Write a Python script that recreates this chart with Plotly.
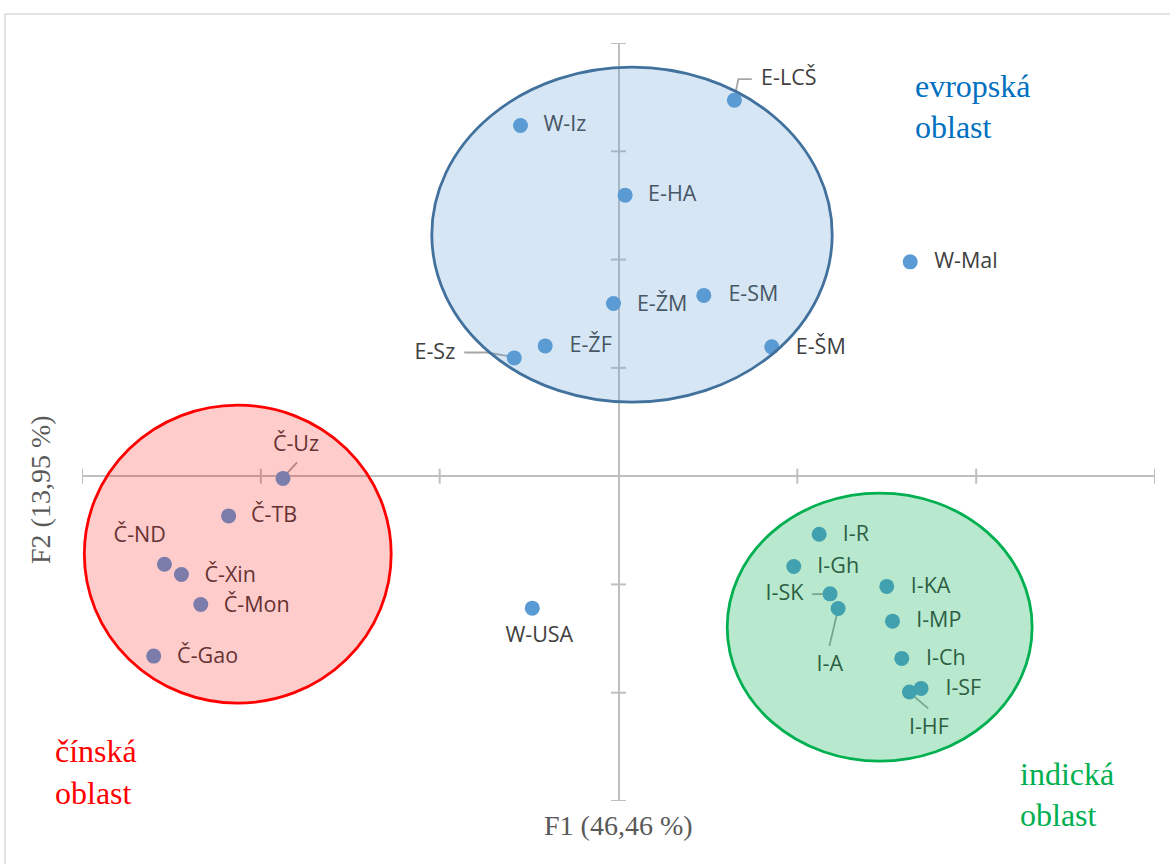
import plotly.graph_objects as go

# ---------------- data (F1, F2 scores in tick units) ----------------
EU_NAMES = ["E-LCŠ", "W-Iz", "E-HA", "W-Mal", "E-ŽM", "E-SM", "E-ŽF", "E-Sz", "E-ŠM", "W-USA"]
EU_F1 = [0.648, -0.548, 0.037, 1.631, -0.028, 0.477, -0.410, -0.583, 0.857, -0.482]
EU_F2 = [3.472, 3.238, 2.595, 1.979, 1.595, 1.669, 1.203, 1.092, 1.194, -1.219]

CN_NAMES = ["Č-Uz", "Č-TB", "Č-ND", "Č-Xin", "Č-Mon", "Č-Gao"]
CN_F1 = [-1.876, -2.180, -2.539, -2.444, -2.336, -2.599]
CN_F2 = [-0.021, -0.367, -0.813, -0.908, -1.185, -1.662]

IN_NAMES = ["I-R", "I-Gh", "I-SK", "I-A", "I-KA", "I-MP", "I-Ch", "I-SF", "I-HF"]
IN_F1 = [1.122, 0.980, 1.183, 1.228, 1.500, 1.532, 1.584, 1.692, 1.627]
IN_F2 = [-0.536, -0.834, -1.087, -1.222, -1.018, -1.339, -1.683, -1.960, -1.994]

# region ellipses: (x0, x1, y0, y1) in data units
EU_REGION = (-1.044, 1.195, 0.683, 3.777)
CN_REGION = (-2.987, -1.271, -2.096, 0.656)
IN_REGION = (0.608, 2.313, -2.632, -0.157)

X_TICKS = [-3, -2, -1, 0, 1, 2, 3]
Y_TICKS = [-3, -2, -1, 0, 1, 2, 3, 4]
X_TITLE = "F1 (46,46 %)"
Y_TITLE = "F2 (13,95 %)"
REGION_TITLES = [["evropská", "oblast"], ["čínská", "oblast"], ["indická", "oblast"]]

# ---------------- label styling (pixel offsets from the point) ----------------
# name: (dx, dy, textposition, leader polyline offsets or None)
LABEL_STYLE = {
    "E-LCŠ": (26.7, -20.7, "middle right", [(17.4, -21), (4, -21), (0, -2)]),
    "W-Iz": (23, 0.5, "middle right", None),
    "E-HA": (23, 0.5, "middle right", None),
    "W-Mal": (24, 0.5, "middle right", None),
    "E-ŽM": (23.4, 1.7, "middle right", None),
    "E-SM": (24.6, 0.7, "middle right", None),
    "E-ŽF": (24.3, 1, "middle right", None),
    "E-Sz": (-59, -4.4, "middle left", [(-50, -5.4), (-27.3, -5.4), (-1, -1)]),
    "E-ŠM": (24, 1.6, "middle right", None),
    "W-USA": (7, 28, "middle center", None),
    "Č-Uz": (13, -32.6, "middle center", [(14, -16), (1.3, -2)]),
    "Č-TB": (22.4, 1, "middle right", None),
    "Č-ND": (-24.7, -27.3, "middle center", None),
    "Č-Xin": (23, 1.7, "middle right", None),
    "Č-Mon": (23, 2.4, "middle right", None),
    "Č-Gao": (23.4, 1.7, "middle right", None),
    "I-R": (23.7, 1.3, "middle right", None),
    "I-Gh": (23.6, 1.4, "middle right", None),
    "I-SK": (-26.7, 1, "middle left", [(-18, 0.3), (-2, 0.3)]),
    "I-A": (-8.3, 56.7, "middle center", [(-8.7, 37.4), (-0.5, 2.7)]),
    "I-KA": (24, 1, "middle right", None),
    "I-MP": (23.7, 0.7, "middle right", None),
    "I-Ch": (24.3, 1, "middle right", None),
    "I-SF": (24.3, 1.7, "middle right", None),
    "I-HF": (19.4, 36.3, "middle center", [(18.7, 16.3), (1.7, 2)]),
}

# ---------------- layout geometry ----------------
W, H = 1170, 864
ML, MR, MT, MB = 82, 15, 43, 63
PW, PH = W - ML - MR, H - MT - MB
XR = (X_TICKS[0], X_TICKS[-1])
YR = (Y_TICKS[0], Y_TICKS[-1])
SX = PW / (XR[1] - XR[0])
SY = PH / (YR[1] - YR[0])


def off(x, y, dx, dy):
    return x + dx / SX, y - dy / SY


def px_paper(px, py):
    return (px - ML) / PW, (H - MB - py) / PH


MARKER_COLOR = "#5B9BD5"
LABEL_FONT = dict(family="Open Sans, sans-serif", size=21.5, color="#404040")
LEADER_COLOR = "#A6A6A6"
AXIS_COLOR = "#BFBFBF"

fig = go.Figure()

all_names = EU_NAMES + CN_NAMES + IN_NAMES
all_x = EU_F1 + CN_F1 + IN_F1
all_y = EU_F2 + CN_F2 + IN_F2

# leader lines
for n, x, y in zip(all_names, all_x, all_y):
    dx, dy, pos, leader = LABEL_STYLE[n]
    if leader:
        pts = [off(x, y, a, b) for a, b in leader]
        fig.add_trace(go.Scatter(
            x=[p[0] for p in pts], y=[p[1] for p in pts], mode="lines",
            line=dict(color=LEADER_COLOR, width=1.8), hoverinfo="skip",
            showlegend=False))

# points
for names, xs, ys in [(EU_NAMES, EU_F1, EU_F2), (CN_NAMES, CN_F1, CN_F2), (IN_NAMES, IN_F1, IN_F2)]:
    fig.add_trace(go.Scatter(
        x=xs, y=ys, mode="markers", text=names,
        marker=dict(size=15, color=MARKER_COLOR, line=dict(width=0)),
        showlegend=False, cliponaxis=False))

# labels
for n, x, y in zip(all_names, all_x, all_y):
    dx, dy, pos, leader = LABEL_STYLE[n]
    lx, ly = off(x, y, dx, dy)
    fig.add_trace(go.Scatter(
        x=[lx], y=[ly], mode="text", text=[n], textposition=pos,
        textfont=LABEL_FONT, showlegend=False, hoverinfo="skip",
        cliponaxis=False))

shapes = []
# tick marks on the crossing axes
for t in X_TICKS:
    if t == 0:
        continue
    shapes.append(dict(type="line", xref="x", yref="y", x0=t, x1=t,
                       ysizemode="pixel", yanchor=0, y0=-7.5, y1=7.5,
                       line=dict(color=AXIS_COLOR, width=2), layer="below"))
for t in Y_TICKS:
    if t == 0:
        continue
    shapes.append(dict(type="line", xref="x", yref="y", y0=t, y1=t,
                       xsizemode="pixel", xanchor=0, x0=-7.5, x1=7.5,
                       line=dict(color=AXIS_COLOR, width=2), layer="below"))

# chart border (only top and left visible)
bx0, by1 = px_paper(5, 14)
shapes.append(dict(type="rect", xref="paper", yref="paper", x0=bx0, y0=-0.3,
                   x1=1.3, y1=by1, line=dict(color="#D9D9D9", width=1.5),
                   fillcolor="rgba(0,0,0,0)", layer="below"))

# region ellipses (drawn above points, semi-transparent)
for reg, fill, edge in [(EU_REGION, "rgba(91,155,213,0.25)", "#41719C"),
                        (CN_REGION, "rgba(255,0,0,0.20)", "#FF0000"),
                        (IN_REGION, "rgba(0,176,80,0.28)", "#00B050")]:
    shapes.append(dict(type="circle", xref="x", yref="y",
                       x0=reg[0], x1=reg[1], y0=reg[2], y1=reg[3],
                       fillcolor=fill, line=dict(color=edge, width=2.8),
                       layer="above"))

annotations = []
SERIF = "Liberation Serif, Times New Roman, serif"
ax_, ay_ = px_paper(618, 825)
annotations.append(dict(xref="paper", yref="paper", x=ax_, y=ay_, text=X_TITLE,
                        showarrow=False, xanchor="center", yanchor="middle",
                        font=dict(family=SERIF, size=28, color="#595959")))
ax_, ay_ = px_paper(41, 490)
annotations.append(dict(xref="paper", yref="paper", x=ax_, y=ay_, text=Y_TITLE,
                        showarrow=False, xanchor="center", yanchor="middle",
                        textangle=-90,
                        font=dict(family=SERIF, size=28, color="#595959")))

# region titles: (left x, top of each line) in pixels
REGION_POS = [(913, [66, 107]), (53, [731, 773]), (1018, [754, 795])]
REGION_COLORS = ["#0070C0", "#FF0000", "#00B050"]
for lines, (px, tops), col in zip(REGION_TITLES, REGION_POS, REGION_COLORS):
    for line, py in zip(lines, tops):
        gx, gy = px_paper(px, py)
        annotations.append(dict(xref="paper", yref="paper", x=gx, y=gy, text=line,
                                showarrow=False, xanchor="left", yanchor="top",
                                align="left",
                                font=dict(family=SERIF, size=32, color=col)))

fig.update_layout(
    width=W, height=H,
    margin=dict(l=ML, r=MR, t=MT, b=MB, pad=0),
    paper_bgcolor="white", plot_bgcolor="rgba(0,0,0,0)",
    xaxis=dict(range=list(XR), showgrid=False, zeroline=True,
               zerolinecolor=AXIS_COLOR, zerolinewidth=2,
               showticklabels=False, ticks="", showline=False, fixedrange=True),
    yaxis=dict(range=list(YR), showgrid=False, zeroline=True,
               zerolinecolor=AXIS_COLOR, zerolinewidth=2,
               showticklabels=False, ticks="", showline=False, fixedrange=True),
    shapes=shapes, annotations=annotations, showlegend=False,
)

fig.write_html("out.html", config={"displayModeBar": False},
               post_script="document.body.style.margin='0px';document.body.style.overflow='hidden';")
